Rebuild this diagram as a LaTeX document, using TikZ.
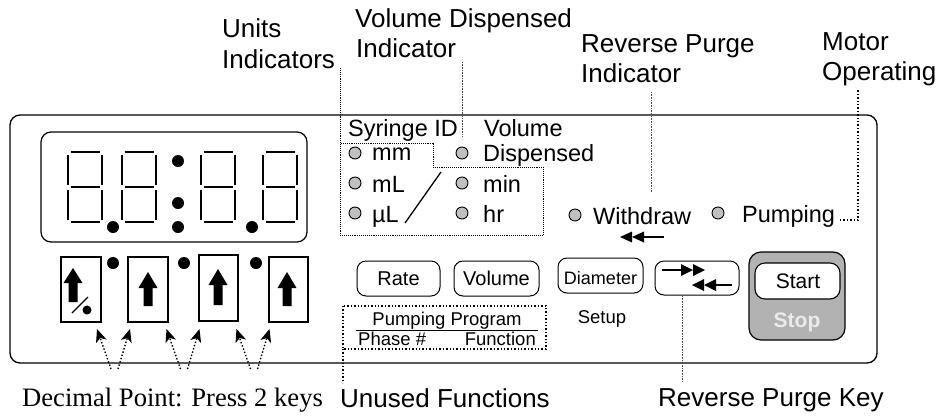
\documentclass[tikz,border=0pt]{standalone}
\usepackage{fontspec}
\setmainfont{Liberation Sans}
\newfontfamily\serifx{Liberation Serif}
\usetikzlibrary{arrows.meta}
\definecolor{ledgray}{RGB}{192,192,192}
\definecolor{stopgray}{RGB}{178,178,178}
\tikzset{
 lbl/.style={font=\fontsize{26}{30}\selectfont, inner sep=0pt, anchor=base west},
 ptxt/.style={font=\fontsize{23.5}{27}\selectfont, inner sep=0pt, anchor=base west},
 btxt/.style={font=\fontsize{20}{24}\selectfont, inner sep=0pt, anchor=base},
 stxt/.style={font=\fontsize{18.5}{22}\selectfont, inner sep=0pt},
 led/.style={circle, draw, fill=ledgray, minimum size=12pt, inner sep=0pt, line width=0.9pt},
 bigdot/.style={circle, fill=black, minimum size=12pt, inner sep=0pt},
 btn/.style={draw, rounded corners=9pt, line width=1pt},
 keybox/.style={draw, line width=1.2pt},
 seg/.style={line width=1.1pt},
 lead/.style={densely dotted, line width=0.6pt, black!70},
 mdot/.style={densely dotted, line width=0.9pt},
 fatdot/.style={dotted, line width=1.4pt},
 varrow/.style={dotted, line width=1.4pt, -{Stealth[length=13pt,width=11pt,inset=3.5pt]}},
}
\newcommand\segdigit[2]{%
 \begin{scope}[shift={(#1,#2)}]
  \draw[seg] (2.5,0)--(31.5,0) (0,2.5)--(0,32.5) (34,2.5)--(34,32.5) (2.5,35)--(31.5,35)
   (0,37.5)--(0,67.5) (34,37.5)--(34,67.5) (2.5,70)--(31.5,70);
 \end{scope}}
\newcommand\keyarrow[4]{%
 \fill (#1,#2) -- ({#1+9.5},#3) -- ({#1+4.5},#3) -- ({#1+4.5},#4) -- ({#1-4.5},#4) -- ({#1-4.5},#3) -- ({#1-9.5},#3) -- cycle;}
\begin{document}
\begin{tikzpicture}[x=1pt,y=-1pt]
\useasboundingbox (0,0) rectangle (939,416);
% panel
\draw[line width=1.3pt, rounded corners=10pt] (10,115) rectangle (877,363);
% display window
\draw[line width=1.2pt, rounded corners=10pt] (41,132) rectangle (307,242);
\segdigit{68}{152}
\segdigit{122}{152}
\segdigit{201}{152}
\segdigit{263}{152}
\node[bigdot] (dp1) at (113,227) {};
\node[bigdot] (col1) at (178,161) {};
\node[bigdot] (col2) at (178,203) {};
\node[bigdot] (col3) at (178,227) {};
\node[bigdot] (dp3) at (252,227) {};
% keys
\draw[keybox] (61,257) rectangle (101,322);
\draw[keybox] (128,257) rectangle (168,322);
\draw[keybox] (199,255) rectangle (238,321);
\draw[keybox] (269,257) rectangle (308,322);
\node[bigdot] (kd1) at (113,263) {};
\node[bigdot] (kd2) at (184,263) {};
\node[bigdot] (kd3) at (256,263) {};
\keyarrow{73}{268}{283}{302}
\draw[line width=1.2pt] (72,313) -- (88,297);
\fill (87,310) circle (4.5);
\keyarrow{148}{272}{288}{306}
\keyarrow{218}{269}{285}{305}
\keyarrow{287}{272}{288}{306}
% decimal point arrows
\foreach \c [count=\i] in {114.5,184,254}{
 \coordinate (vl\i) at ({\c-3.5},369);
 \coordinate (vr\i) at ({\c+3.5},369);
 \coordinate (tl\i) at ({\c-17.5},329);
 \coordinate (tr\i) at ({\c+15.5},329);
 \draw[varrow] (vl\i) -- (tl\i);
 \draw[varrow] (vr\i) -- (tr\i);
}
\node[inner sep=0pt, anchor=base west, font=\serifx\fontsize{26.6}{30}\selectfont] (dec) at (22,406) {Decimal Point: Press 2 keys};
% indicators
\node[ptxt] (syr) at (348,136) {Syringe ID};
\node[ptxt] (vol) at (484,136) {Volume};
\node[led] (lmm) at (355,153) {};
\node[led] (lml) at (355,183) {};
\node[led] (lul) at (355,213) {};
\node[led] (lvd) at (462,153) {};
\node[led] (lmin) at (462,183) {};
\node[led] (lhr) at (462,213) {};
\node[ptxt] (tmm) at (372,160) {mm};
\node[ptxt] (tml) at (372,192) {mL};
\node[ptxt] (tul) at (372,222) {µL};
\node[ptxt] (tvd) at (483,161) {Dispensed};
\node[ptxt] (tmin) at (483,192) {min};
\node[ptxt] (thr) at (483,222) {hr};
\draw[line width=1.3pt] (405,223) -- (441,172);
% units dotted box
\coordinate (ua) at (340,68);
\coordinate (ub) at (340,235);
\draw[mdot] (ua) -- (ub) -- (543,235) -- (543,167) -- (433,167) -- (433,143) -- (340,143);
\node[lbl] (units1) at (222,37) {Units};
\node[lbl] (units2) at (222,68) {Indicators};
\node[lbl] (vd1) at (355,27) {Volume Dispensed};
\node[lbl] (vd2) at (356,57) {Indicator};
\coordinate (vda) at (462,62);
\coordinate (vdb) at (462,137);
\draw[lead] (vda) -- (vdb);
% withdraw / pumping
\node[led] (lwd) at (575,215) {};
\node[ptxt] (twd) at (593,224) {Withdraw};
\node[led] (lpu) at (718,213) {};
\node[ptxt] (tpu) at (742,222) {Pumping};
\fill (620,237) -- (632,231.5) -- (632,242.5) -- cycle;
\fill (632,237) -- (644,231.5) -- (644,242.5) -- cycle;
\draw[line width=1.2pt] (640,237) -- (664,237);
\node[lbl] (rp1) at (581,52) {Reverse Purge};
\node[lbl] (rp2) at (581,82) {Indicator};
\coordinate (rpa) at (651,92);
\coordinate (rpb) at (651,192);
\draw[lead] (rpa) -- (rpb);
\node[lbl] (mo1) at (822,50) {Motor};
\node[lbl] (mo2) at (822,80) {Operating};
\coordinate (moa) at (840,220);
\coordinate (mob) at (858,90);
\draw[fatdot] (moa) -- (858,220) -- (mob);
% buttons
\draw[btn] (357,261) rectangle (440,296);
\node[btxt] (rate) at (398.5,285) {Rate};
\draw[btn] (454,261) rectangle (539,296);
\node[btxt] (volb) at (496.5,285) {Volume};
\draw[btn] (558,258) rectangle (643,293);
\node[btxt, font=\fontsize{18}{22}\selectfont] (dia) at (600.5,284) {Diameter};
\node[stxt, anchor=base] (setup) at (602,323) {Setup};
\draw[btn] (655,261) rectangle (739,295);
\draw[line width=1.2pt] (662,270) -- (684,270);
\fill (693,270) -- (681,264) -- (681,276) -- cycle;
\fill (705,270) -- (693,264) -- (693,276) -- cycle;
\fill (692,285) -- (704,279) -- (704,291) -- cycle;
\fill (704,285) -- (716,279) -- (716,291) -- cycle;
\draw[line width=1.2pt] (712,285) -- (732,285);
\coordinate (rka) at (682,296);
\coordinate (rkb) at (682,382);
\draw[lead] (rka) -- (rkb);
\node[lbl] (rpk) at (658,406) {Reverse Purge Key};
% start/stop
\draw[line width=1.2pt, rounded corners=12pt, fill=stopgray] (749,252) rectangle (845,340);
\draw[line width=1.1pt, rounded corners=10pt, fill=white] (755,263) rectangle (840,299);
\node[btxt, font=\fontsize{21}{25}\selectfont] (start) at (798,288) {Start};
\node[btxt, font=\bfseries\fontsize{21}{25}\selectfont, text=white!92!black] (stop) at (797,327) {Stop};
% pumping program box
\draw[fatdot] (343,306) rectangle (546,349);
\node[stxt, anchor=base] (pp) at (447,325) {Pumping Program};
\draw[line width=1pt] (356,330) -- (538,330);
\node[stxt, anchor=base west] (ph) at (358,345) {Phase \#};
\node[stxt, anchor=base east] (fn) at (536,345) {Function};
\coordinate (ufa) at (343,349);
\coordinate (ufb) at (343,383);
\draw[fatdot] (ufa) -- (ufb);
\node[lbl] (uf) at (340,407) {Unused Functions};
\end{tikzpicture}
\end{document}
